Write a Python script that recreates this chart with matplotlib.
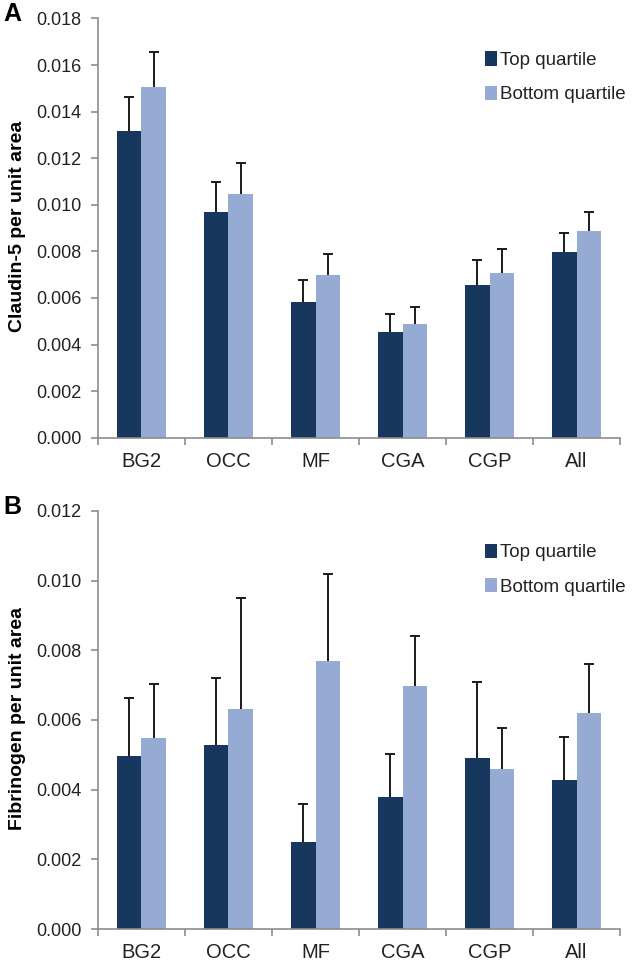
import matplotlib.pyplot as plt
import numpy as np

plt.rcParams['font.family'] = ['Liberation Sans', 'DejaVu Sans']

# Data
regions = ['BG2', 'OCC', 'MF', 'CGA', 'CGP', 'All']

claudin_top = [0.01316, 0.00969, 0.00584, 0.00455, 0.00656, 0.00797]
claudin_top_err = [0.00148, 0.00128, 0.00094, 0.00075, 0.00105, 0.00081]
claudin_bottom = [0.01506, 0.01046, 0.00698, 0.00487, 0.00709, 0.00887]
claudin_bottom_err = [0.00148, 0.00134, 0.00091, 0.00074, 0.00101, 0.00082]

fib_top = [0.00497, 0.00528, 0.00249, 0.00379, 0.00490, 0.00429]
fib_top_err = [0.00165, 0.00193, 0.00111, 0.00122, 0.00219, 0.00123]
fib_bottom = [0.00549, 0.00631, 0.00769, 0.00698, 0.00458, 0.00619]
fib_bottom_err = [0.00153, 0.00318, 0.00250, 0.00142, 0.00120, 0.00141]

dark = '#17375E'
light = '#95ABD3'
axis_gray = '#8C8C8C'
text_col = '#222222'


def upper_errorbar(ax, x, y, err):
    # only the upper whisker, as in the original figure
    _, caps, _ = ax.errorbar(x, y, yerr=[np.zeros(len(y)), err], fmt='none',
                             ecolor='#1a1a1a', elinewidth=1.4, capsize=3.6,
                             capthick=1.4, zorder=3)
    caps[0].set_visible(False)


def draw_panel(ax, top, top_err, bottom, bottom_err, ymax, ylabel, letter):
    x = np.arange(len(regions))
    w = 0.28
    ax.bar(x - w / 2, top, w, color=dark, label='Top quartile', zorder=2)
    ax.bar(x + w / 2, bottom, w, color=light, label='Bottom quartile', zorder=2)
    upper_errorbar(ax, x - w / 2, top, top_err)
    upper_errorbar(ax, x + w / 2, bottom, bottom_err)

    ax.set_xlim(-0.5, len(regions) - 0.5)
    ax.set_ylim(0, ymax)
    ax.set_yticks(np.arange(0, ymax + 1e-9, 0.002))
    ax.yaxis.set_major_formatter(plt.FormatStrFormatter('%.3f'))
    ax.tick_params(axis='y', labelsize=13, colors=axis_gray, labelcolor=text_col,
                   length=5, width=1.2, direction='out', pad=7)

    ax.set_xticks(np.arange(-0.5, len(regions), 1.0))
    ax.set_xticklabels([])
    ax.set_xticks(x, minor=True)
    ax.set_xticklabels(regions, minor=True)
    ax.tick_params(axis='x', which='major', colors=axis_gray, length=5, width=1.2,
                   direction='out')
    ax.tick_params(axis='x', which='minor', length=0, labelsize=14.5,
                   labelcolor=text_col, pad=10)

    for s in ['top', 'right']:
        ax.spines[s].set_visible(False)
    for s in ['left', 'bottom']:
        ax.spines[s].set_color(axis_gray)
        ax.spines[s].set_linewidth(1.2)

    ax.set_ylabel(ylabel, fontsize=14, fontweight='bold', color='black')
    ax.yaxis.set_label_coords(-0.137, 0.503)

    leg = ax.legend(loc='upper left', bbox_to_anchor=(0.742, 0.922), frameon=False,
                    fontsize=13.5, handlelength=0.6, handleheight=0.8,
                    handletextpad=0.2, labelspacing=0.9, borderpad=0,
                    borderaxespad=0)
    for t in leg.get_texts():
        t.set_color(text_col)

    ax.annotate(letter, xy=(3 / 633, 1.0), xycoords=('figure fraction', 'axes fraction'),
                xytext=(0, 4), textcoords='offset pixels', fontsize=18,
                fontweight='bold', ha='left', va='center')


fig = plt.figure(figsize=(6.33, 9.63), dpi=100)
ax_a = fig.add_axes([0.1548, 0.5455, 0.8247, 0.4353])
ax_b = fig.add_axes([0.1548, 0.0353, 0.8247, 0.4341])

draw_panel(ax_a, claudin_top, claudin_top_err, claudin_bottom, claudin_bottom_err,
           0.018, 'Claudin-5 per unit area', 'A')
draw_panel(ax_b, fib_top, fib_top_err, fib_bottom, fib_bottom_err,
           0.012, 'Fibrinogen per unit area', 'B')

fig.savefig('out.png', dpi=100, facecolor='white')
